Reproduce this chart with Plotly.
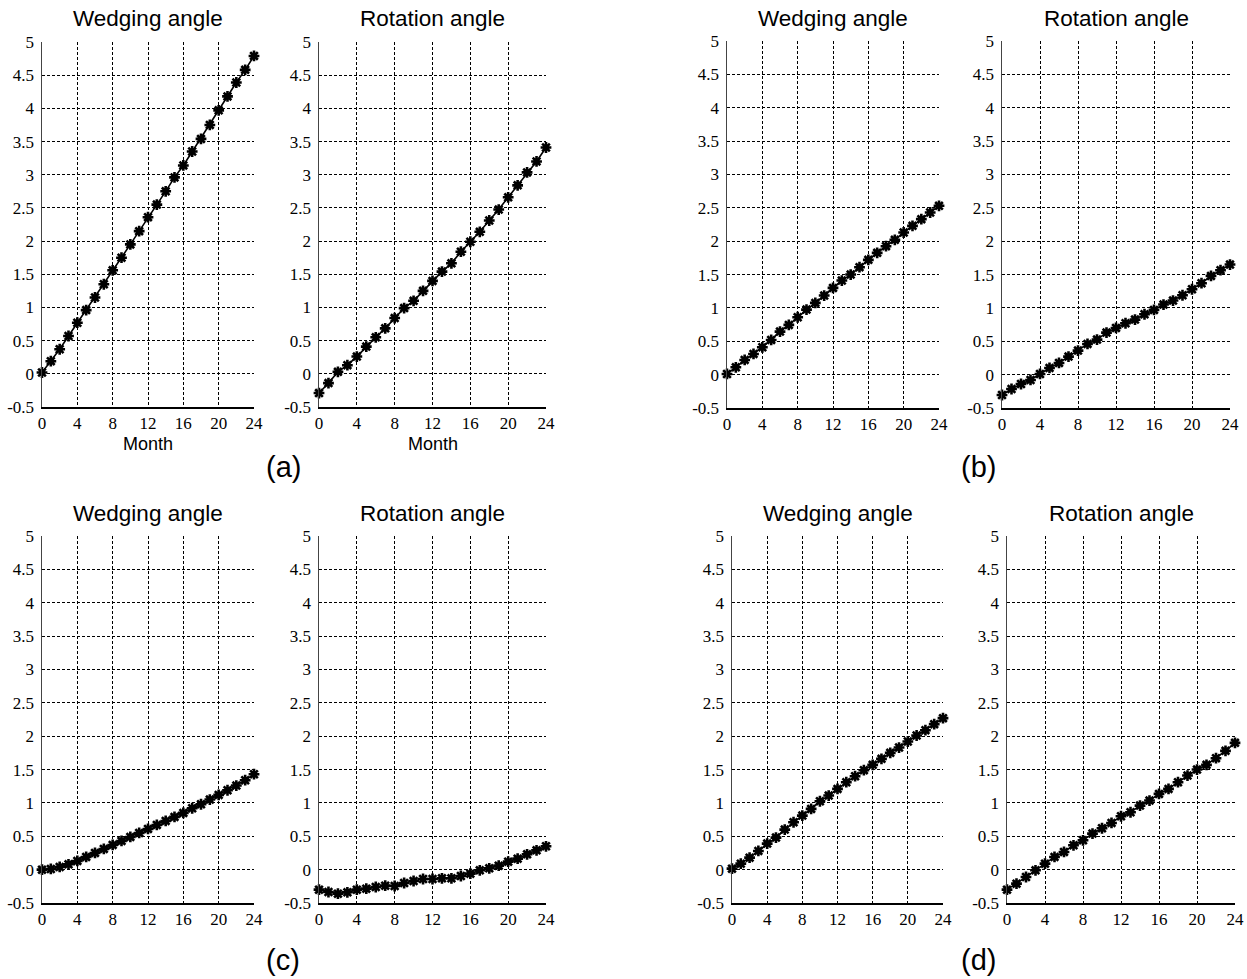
import plotly.graph_objects as go

months = list(range(25))

a_wedging = [0.02, 0.19, 0.37, 0.57, 0.77, 0.96, 1.15, 1.35, 1.56, 1.75, 1.95, 2.15, 2.36,
             2.55, 2.75, 2.96, 3.14, 3.35, 3.54, 3.75, 3.97, 4.18, 4.39, 4.58, 4.79]
a_rotation = [-0.29, -0.14, 0.03, 0.13, 0.26, 0.41, 0.55, 0.685, 0.84, 0.99, 1.10, 1.25, 1.40,
              1.54, 1.665, 1.84, 1.99, 2.14, 2.31, 2.475, 2.66, 2.84, 3.035, 3.20, 3.41]
b_wedging = [0.01, 0.11, 0.22, 0.31, 0.41, 0.52, 0.645, 0.745, 0.86, 0.975, 1.075, 1.185, 1.30,
             1.41, 1.50, 1.61, 1.72, 1.825, 1.925, 2.02, 2.13, 2.23, 2.33, 2.43, 2.53]
b_rotation = [-0.305, -0.215, -0.14, -0.08, 0.01, 0.10, 0.175, 0.27, 0.36, 0.46, 0.525, 0.63, 0.70,
              0.77, 0.825, 0.905, 0.97, 1.05, 1.11, 1.19, 1.28, 1.37, 1.48, 1.565, 1.65]
c_wedging = [0.0, 0.01, 0.04, 0.08, 0.13, 0.19, 0.25, 0.31, 0.37, 0.43, 0.49, 0.55, 0.61,
             0.67, 0.73, 0.79, 0.85, 0.92, 0.98, 1.05, 1.12, 1.19, 1.26, 1.34, 1.43]
c_rotation = [-0.30, -0.335, -0.36, -0.34, -0.30, -0.285, -0.26, -0.24, -0.245, -0.20, -0.17, -0.14, -0.14,
              -0.13, -0.13, -0.095, -0.06, -0.01, 0.02, 0.06, 0.12, 0.165, 0.23, 0.29, 0.35]
d_wedging = [0.015, 0.09, 0.18, 0.28, 0.39, 0.48, 0.60, 0.71, 0.81, 0.91, 1.025, 1.11, 1.21,
             1.31, 1.40, 1.49, 1.57, 1.66, 1.75, 1.83, 1.92, 2.01, 2.09, 2.18, 2.27]
d_rotation = [-0.30, -0.21, -0.11, -0.01, 0.09, 0.19, 0.265, 0.365, 0.44, 0.54, 0.62, 0.70, 0.80,
              0.86, 0.96, 1.035, 1.135, 1.21, 1.31, 1.41, 1.50, 1.57, 1.67, 1.78, 1.90]

x_tickvals = [0, 4, 8, 12, 16, 20, 24]
x_ticktext = ["0", "4", "8", "12", "16", "20", "24"]
y_tickvals = [-0.5, 0, 0.5, 1, 1.5, 2, 2.5, 3, 3.5, 4, 4.5, 5]
y_ticktext = ["-0.5", "0", "0.5", "1", "1.5", "2", "2.5", "3", "3.5", "4", "4.5", "5"]

panel_titles = ["Wedging angle", "Rotation angle"]
x_title = "Month"
panel_labels = ["(a)", "(b)", "(c)", "(d)"]

W, H = 1247, 979
SERIF = "Liberation Serif, Times New Roman, serif"
SANS = "Liberation Sans, Arial, sans-serif"


def fx(px):
    return px / W


def fy(py):
    return 1 - py / H


# page-pixel boxes (left, right, top, bottom)
boxes = [
    (42, 254, 42, 407), (319, 546, 42, 407),
    (727, 939, 41, 408), (1002, 1230, 41, 408),
    (42, 254, 536, 903), (319, 546, 536, 903),
    (732, 943, 536, 903), (1007, 1235, 536, 903),
]
series = [a_wedging, a_rotation, b_wedging, b_rotation,
          c_wedging, c_rotation, d_wedging, d_rotation]
show_month = [True, True, False, False, False, False, False, False]
label_pos = [(283, 467), (979, 467), (283, 960), (979, 960)]

fig = go.Figure()
annotations = []
layout = dict(
    width=W, height=H,
    margin=dict(l=0, r=0, t=0, b=0, autoexpand=False),
    paper_bgcolor="white", plot_bgcolor="white",
    showlegend=False,
)

for i, (box, ys) in enumerate(zip(boxes, series)):
    n = i + 1
    l, r, t, b = box
    xa = "xaxis" if n == 1 else f"xaxis{n}"
    ya = "yaxis" if n == 1 else f"yaxis{n}"
    xref = "x" if n == 1 else f"x{n}"
    yref = "y" if n == 1 else f"y{n}"
    layout[xa] = dict(
        domain=[fx(l), fx(r)], anchor=yref, range=[0, 24], automargin=False,
        tickmode="array", tickvals=x_tickvals, ticktext=x_ticktext,
        showgrid=True, gridcolor="black", gridwidth=1, griddash="3px,2px",
        zeroline=False, showline=True, linecolor="black", linewidth=1.5,
        ticks="", tickfont=dict(family=SERIF, size=17, color="black"),
        fixedrange=True,
    )
    layout[ya] = dict(
        domain=[fy(b), fy(t)], anchor=xref, range=[-0.5, 5], automargin=False,
        tickmode="array", tickvals=y_tickvals, ticktext=y_ticktext,
        showgrid=True, gridcolor="black", gridwidth=1, griddash="3px,2px",
        zeroline=False, showline=True, linecolor="#444", linewidth=1.5,
        ticks="", ticklabelstandoff=3,
        tickfont=dict(family=SERIF, size=17, color="black"),
        fixedrange=True,
    )
    fig.add_trace(go.Scatter(
        x=months, y=ys, mode="lines+markers", xaxis=xref, yaxis=yref,
        line=dict(color="black", width=1.6),
        marker=dict(symbol="asterisk-open", size=9, color="black",
                    line=dict(color="black", width=2.6)),
        cliponaxis=False, hoverinfo="skip",
    ))
    cx = fx((l + r) / 2)
    annotations.append(dict(
        text=panel_titles[i % 2], x=cx, y=fy(t - 23),
        xref="paper", yref="paper", xanchor="center", yanchor="middle",
        showarrow=False, font=dict(family=SANS, size=22.5, color="black"),
    ))
    if show_month[i]:
        annotations.append(dict(
            text=x_title, x=cx, y=fy(444),
            xref="paper", yref="paper", xanchor="center", yanchor="middle",
            showarrow=False, font=dict(family=SANS, size=18, color="black"),
        ))

for lab, (px, py) in zip(panel_labels, label_pos):
    annotations.append(dict(
        text=lab, x=fx(px), y=fy(py), xref="paper", yref="paper",
        xanchor="center", yanchor="middle", showarrow=False,
        font=dict(family=SANS, size=29, color="black"),
    ))

layout["annotations"] = annotations
fig.update_layout(**layout)
fig.write_html(
    "out.html",
    config={"displayModeBar": False, "staticPlot": True},
    post_script="document.body.style.margin='0px';document.body.style.padding='0px';"
                "document.documentElement.style.overflow='hidden';",
)
